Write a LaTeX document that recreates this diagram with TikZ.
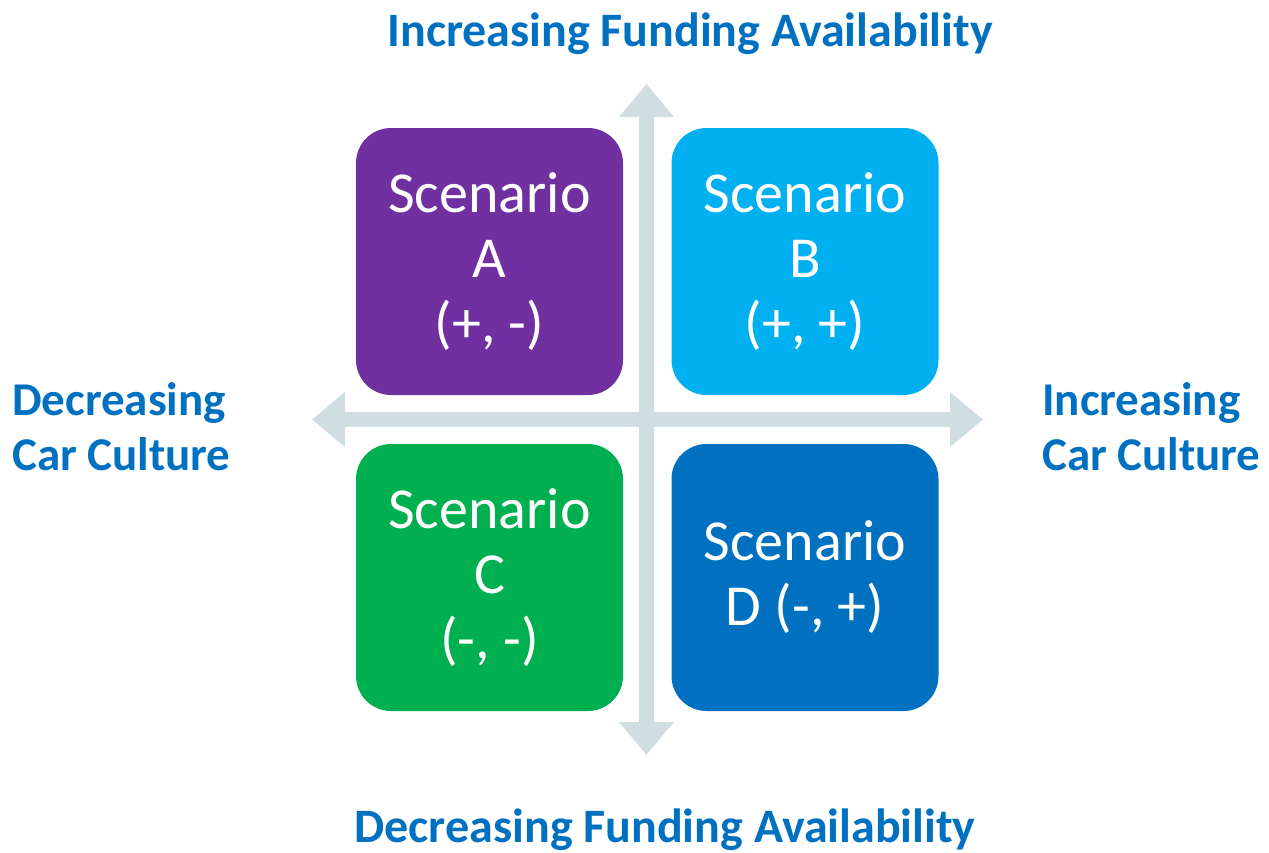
\documentclass[tikz,border=0pt]{standalone}
\usepackage{fontspec}
\setmainfont{Carlito}
\usetikzlibrary{arrows.meta}
\definecolor{scA}{HTML}{7030A0}
\definecolor{scB}{HTML}{00B0F0}
\definecolor{scC}{HTML}{00B050}
\definecolor{scD}{HTML}{0070C0}
\definecolor{axisgray}{HTML}{D0DEE2}
\definecolor{labelblue}{HTML}{0070C0}
\tikzset{
  scenbox/.style={rectangle, rounded corners=35pt, minimum width=267pt, minimum height=267pt,
    inner sep=0pt, text=white, align=center, font=\fontsize{58pt}{65pt}\selectfont},
  axisarrow/.style={draw=axisgray, line width=15pt,
    {Triangle[width=53pt,length=33pt]}-{Triangle[width=53pt,length=33pt]}},
  axislabel/.style={text=labelblue, font=\bfseries\fontsize{48pt}{55pt}\selectfont, inner sep=0pt},
  sidelabel/.style={text=labelblue, font=\bfseries\fontsize{47pt}{55pt}\selectfont, inner sep=0pt,
    align=left, anchor=base west}
}
\begin{document}
\begin{tikzpicture}[x=1pt,y=-1pt]
\useasboundingbox (0,0) rectangle (1269,852);
% axes
\coordinate (vtop) at (646.5,84);
\coordinate (vbot) at (646.5,755);
\coordinate (hleft) at (312,419.5);
\coordinate (hright) at (983,419.5);
\draw[axisarrow] (vbot) -- (vtop);
\draw[axisarrow] (hleft) -- (hright);
% scenario boxes
\node[scenbox, fill=scA] (A) at (489.5,261.5) {Scenario\\A\\(+, -)};
\node[scenbox, fill=scB] (B) at (805,261.5) {Scenario\\B\\(+, +)};
\node[scenbox, fill=scC] (C) at (489.5,577.5) {Scenario\\C\\(-, -)};
\node[scenbox, fill=scD] (D) at (805,577.5) {Scenario\\D (-, +)};
% axis labels
\node[axislabel, anchor=base] (top) at (690,46) {Increasing Funding Availability};
\node[axislabel, anchor=base] (bottom) at (665,842) {Decreasing Funding Availability};
\node[sidelabel] (left) at (12,470) {Decreasing\\Car Culture};
\node[sidelabel] (right) at (1042,470) {Increasing\\Car Culture};
\end{tikzpicture}
\end{document}
